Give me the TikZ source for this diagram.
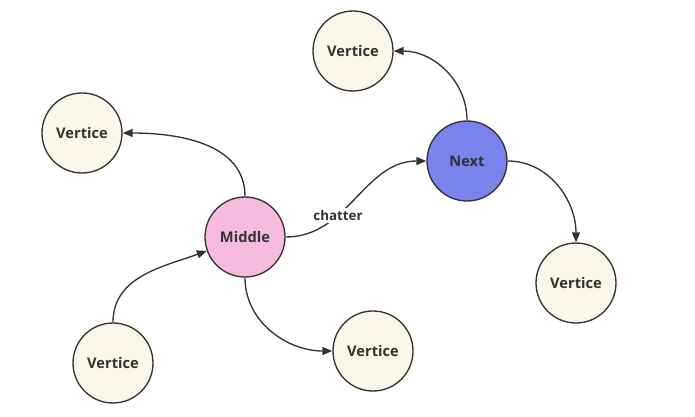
\documentclass[tikz,border=0pt]{standalone}
\usepackage{fontspec}
\setmainfont{Open Sans}
\usetikzlibrary{arrows.meta}

\definecolor{vertfill}{RGB}{252,248,233}
\definecolor{midfill}{RGB}{246,187,220}
\definecolor{nextfill}{RGB}{122,130,236}
\definecolor{inkgray}{RGB}{51,51,51}

\tikzset{every picture/.style={line width=0.75pt}}
\tikzset{
  vert/.style={circle, draw=inkgray, line width=1pt, fill=vertfill, minimum size=60pt, inner sep=0pt, text=inkgray, font=\fontsize{11}{13}\selectfont\bfseries},
  midnode/.style={vert, fill=midfill},
  nextnode/.style={vert, fill=nextfill},
  link/.style={draw=inkgray, line width=1pt, -{Triangle[length=7.5pt,width=6pt]}},
}

\begin{document}
\begin{tikzpicture}[x=0.75pt,y=0.75pt,yscale=-1,xscale=1]
\useasboundingbox (0,0) rectangle (695,417);

% Nodes
\node [midnode] (middle) at (245,237) {Middle};
\node [nextnode] (next) at (467,161) {Next};
\node [vert] (vtop) at (353,51) {Vertice};
\node [vert] (vleft) at (82,133) {Vertice};
\node [vert] (vlowleft) at (113,363) {Vertice};
\node [vert] (vlow) at (373,351) {Vertice};
\node [vert] (vright) at (576,283) {Vertice};

% Links (angles are mirrored by yscale=-1)
\draw [link] (middle.north) to [out=270,in=0] (vleft.east);
\draw [link] (middle.east) to [out=0,in=180] node [pos=0.35, fill=white, inner sep=1.5pt, text=inkgray, font=\fontsize{10}{12}\selectfont\bfseries] {chatter} (next.west);
\draw [link] (next.north) to [out=270,in=0] (vtop.east);
\draw [link] (next.east) to [out=0,in=270] (vright.north);
\draw [link] (middle.south) to [out=90,in=180] (vlow.west);
\draw [link] (vlowleft.north) to [out=270,in=160] (middle.200);

\end{tikzpicture}
\end{document}
